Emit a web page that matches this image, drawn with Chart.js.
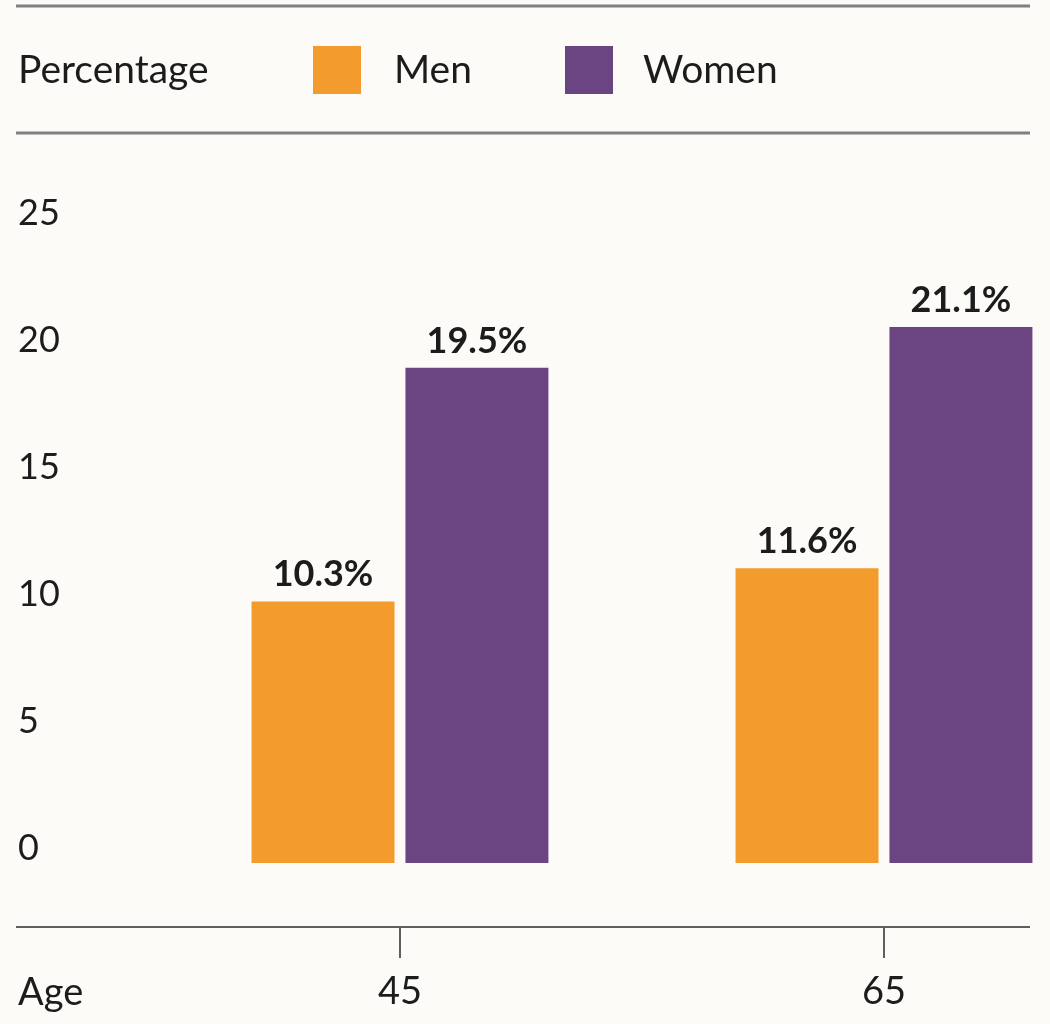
<!DOCTYPE html>
<html>
<head>
<meta charset="utf-8">
<title>Percentage by age</title>
<script src="https://cdn.jsdelivr.net/npm/chart.js@4.4.1/dist/chart.umd.min.js"></script>
<style>
  html, body { margin: 0; padding: 0; background: #fcfbf8; }
  #wrap { width: 1050px; height: 1024px; position: relative; }
</style>
</head>
<body>
<div id="wrap"><canvas id="chart"></canvas></div>
<script>
// Data
const ages = [45, 65];
const menValues = [10.3, 11.6];
const womenValues = [19.5, 21.1];
const yTicks = [0, 5, 10, 15, 20, 25];
const seriesNames = ['Men', 'Women'];
const yTitle = 'Percentage';
const xTitle = 'Age';

const ORANGE = '#f39c2d';
const PURPLE = '#6b4581';
const INK = '#1c1c1c';
const RULE = '#808080';
const FONT = 'Lato, "Noto Sans", sans-serif';

// Rules, legend, axis line, tick marks and value labels
const decor = {
    id: 'decor',
    afterDraw(chart) {
        const ctx = chart.ctx;
        const x = chart.scales.x;
        ctx.save();

        // top rules
        ctx.strokeStyle = RULE;
        ctx.lineWidth = 3;
        [6, 133].forEach(y => {
            ctx.beginPath();
            ctx.moveTo(16, y);
            ctx.lineTo(1030, y);
            ctx.stroke();
        });

        // legend row
        ctx.fillStyle = INK;
        ctx.font = '39px ' + FONT;
        ctx.textBaseline = 'alphabetic';
        ctx.textAlign = 'left';
        ctx.fillText(yTitle, 18, 83);
        const swatchX = [313, 565];
        const labelX = [394, 643];
        chart.data.datasets.forEach((ds, i) => {
            ctx.fillStyle = ds.backgroundColor;
            ctx.fillRect(swatchX[i], 46, 48, 48);
            ctx.fillStyle = INK;
            ctx.fillText(ds.label, labelX[i], 83);
        });

        // bottom axis line + tick marks
        ctx.strokeStyle = '#5e5e5e';
        ctx.lineWidth = 2;
        ctx.beginPath();
        ctx.moveTo(16, 927);
        ctx.lineTo(1030, 927);
        ctx.stroke();
        ages.forEach(a => {
            const px = Math.round(x.getPixelForValue(a));
            ctx.beginPath();
            ctx.moveTo(px, 927);
            ctx.lineTo(px, 958);
            ctx.stroke();
        });

        // x title
        ctx.fillStyle = INK;
        ctx.font = '38px ' + FONT;
        ctx.fillText(xTitle, 18, 1005);

        // value labels
        ctx.font = 'bold 36px ' + FONT;
        ctx.textAlign = 'center';
        chart.data.datasets.forEach((ds, i) => {
            chart.getDatasetMeta(i).data.forEach((bar, j) => {
                ctx.fillText(ds.data[j].y.toFixed(1) + '%', bar.x, bar.y - 15);
            });
        });

        ctx.restore();
    }
};

const ctx = document.getElementById('chart');

new Chart(ctx, {
    type: 'bar',
    data: {
        datasets: [
            {
                label: seriesNames[0],
                data: ages.map((a, i) => ({ x: a, y: menValues[i] })),
                backgroundColor: ORANGE,
                categoryPercentage: 0.636,
                barPercentage: 0.929
            },
            {
                label: seriesNames[1],
                data: ages.map((a, i) => ({ x: a, y: womenValues[i] })),
                backgroundColor: PURPLE,
                categoryPercentage: 0.636,
                barPercentage: 0.929
            }
        ]
    },
    options: {
        responsive: true,
        maintainAspectRatio: false,
        animation: false,
        layout: { padding: { top: 228, left: 18, right: 0, bottom: 0 } },
        plugins: {
            legend: { display: false },
            tooltip: { enabled: false }
        },
        scales: {
            x: {
                type: 'linear',
                min: 34.67,
                max: 71.86,
                offset: false,
                grid: { display: false, drawTicks: false },
                border: { display: false },
                afterBuildTicks: s => { s.ticks = ages.map(v => ({ value: v })); },
                afterFit: s => { s.height = 161; },
                ticks: {
                    padding: 106,
                    color: INK,
                    font: { family: FONT, size: 38 }
                }
            },
            y: {
                min: 0,
                max: 25,
                grid: { display: false, drawTicks: false },
                border: { display: false },
                afterBuildTicks: s => { s.ticks = yTicks.map(v => ({ value: v })); },
                afterFit: s => { s.width = 132; },
                ticks: {
                    crossAlign: 'far',
                    labelOffset: -15,
                    padding: 0,
                    color: INK,
                    font: { family: FONT, size: 36 }
                }
            }
        }
    },
    plugins: [decor]
});
</script>
</body>
</html>
